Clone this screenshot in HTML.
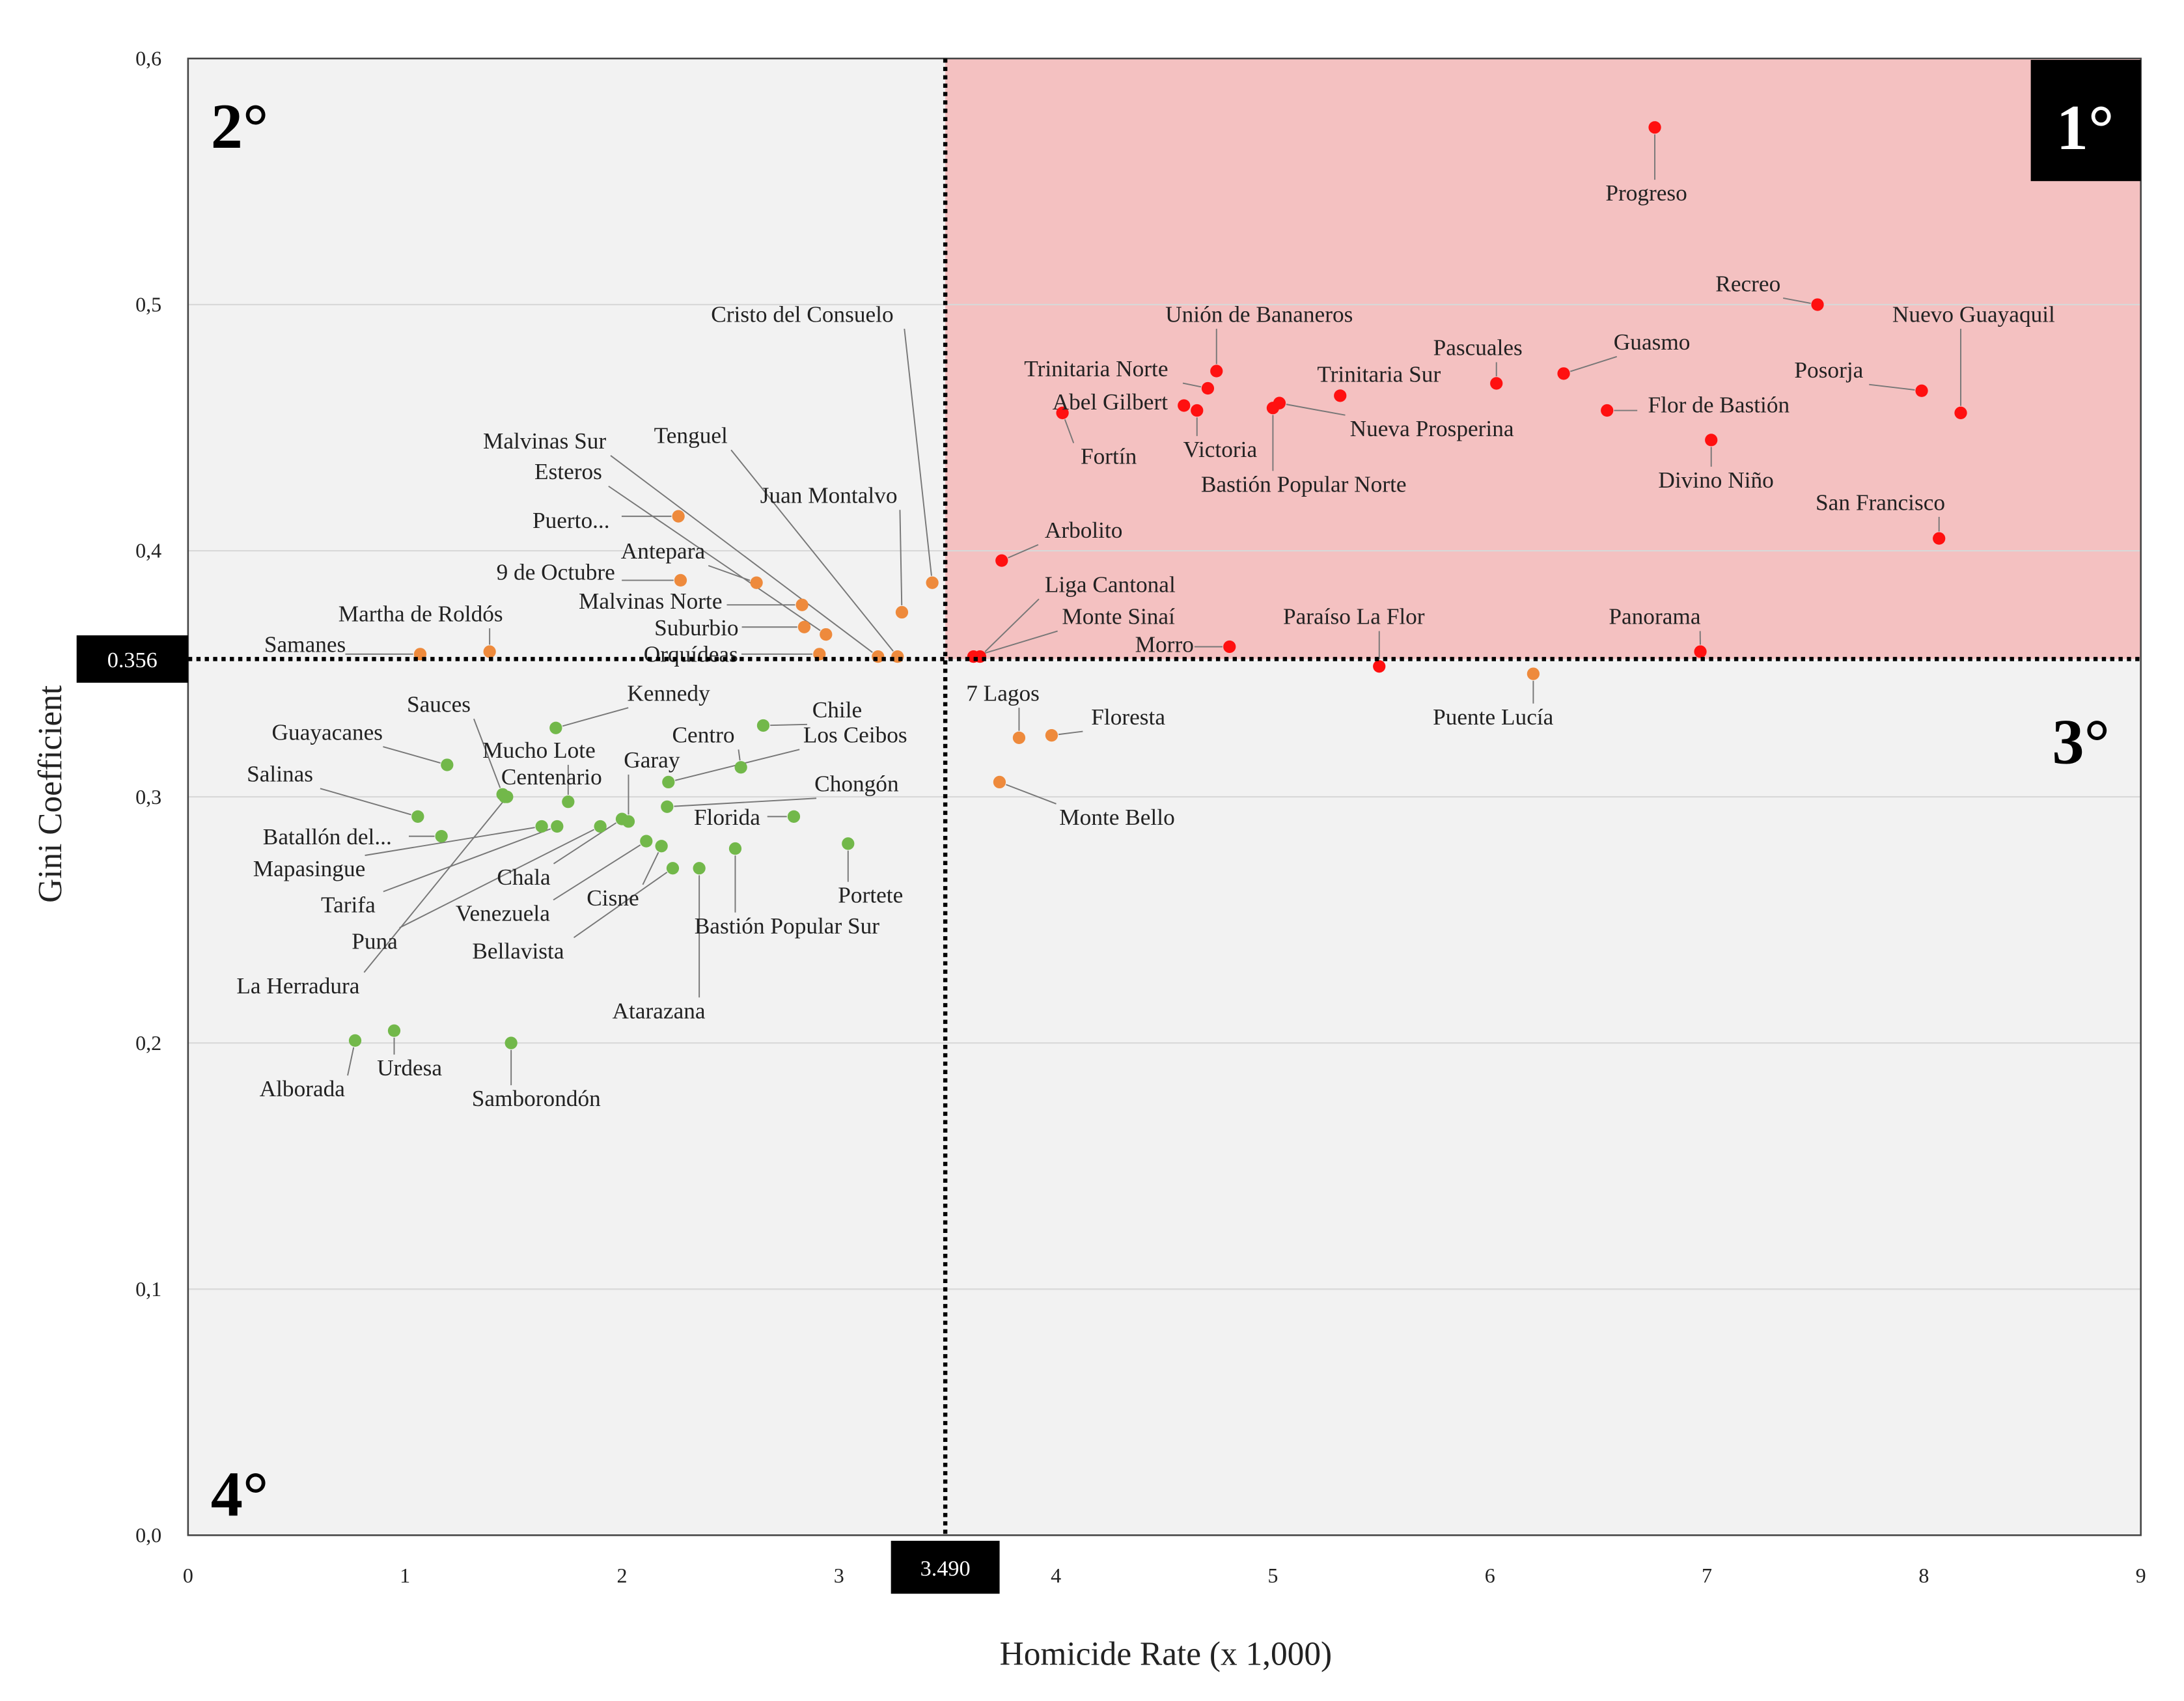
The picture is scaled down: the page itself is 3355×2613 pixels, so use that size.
<!DOCTYPE html>
<html><head><meta charset="utf-8"><style>
html,body{margin:0;padding:0;background:#fff}
svg{display:block}
text{font-family:"Liberation Serif",serif;fill:#222}
</style></head><body>
<svg id="chart" width="3355" height="2613" viewBox="0 0 1568 1221" preserveAspectRatio="none" xmlns="http://www.w3.org/2000/svg">
<g id="bg"></g><g id="grid"></g><g id="leaders"></g><g id="pts"></g><g id="labels"></g><g id="over"></g>
</svg>
<script>
const redNames=["Progreso","Recreo","Nuevo Guayaquil","Posorja","Guasmo","Pascuales","Flor de Bastión","Divino Niño","San Francisco","Panorama","Trinitaria Sur","Unión de Bananeros","Trinitaria Norte","Abel Gilbert","Fortín","Victoria","Nueva Prosperina","Bastión Popular Norte","Arbolito","Liga Cantonal","Monte Sinaí","Morro","Paraíso La Flor"];
const redX=[6.76,7.51,8.17,7.99,6.34,6.03,6.54,7.02,8.07,6.97,5.31,4.74,4.70,4.59,4.03,4.65,5.03,5.00,3.75,3.65,3.62,4.80,5.49];
const redY=[0.572,0.500,0.456,0.465,0.472,0.468,0.457,0.445,0.405,0.359,0.463,0.473,0.466,0.459,0.456,0.457,0.460,0.458,0.396,0.357,0.357,0.361,0.353];
const orangeNames=["Cristo del Consuelo","Juan Montalvo","Tenguel","Malvinas Sur","Esteros","Puerto...","Antepara","9 de Octubre","Malvinas Norte","Suburbio","Orquídeas","Martha de Roldós","Samanes","7 Lagos","Floresta","Monte Bello","Puente Lucía"];
const orangeX=[3.43,3.29,3.27,3.18,2.94,2.26,2.62,2.27,2.83,2.84,2.91,1.39,1.07,3.83,3.98,3.74,6.20];
const orangeY=[0.387,0.375,0.357,0.357,0.366,0.414,0.387,0.388,0.378,0.369,0.358,0.359,0.358,0.324,0.325,0.306,0.350];
const greenNames=["Kennedy","Chile","Guayacanes","Centro","Los Ceibos","Sauces","La Herradura","Mucho Lote","Centenario","Garay","Chongón","Salinas","Florida","Batallón del...","Mapasingue","Tarifa","Puna","Chala","Venezuela","Cisne","Bellavista","Atarazana","Bastión Popular Sur","Portete","Alborada","Urdesa","Samborondón"];
const greenX=[1.695,2.651,1.194,2.548,2.214,1.450,1.470,1.752,1.46,2.03,2.208,1.059,2.792,1.168,1.630,1.701,1.900,2.00,2.112,2.182,2.234,2.356,2.522,3.042,0.770,0.950,1.489];
const greenY=[0.328,0.329,0.313,0.312,0.306,0.301,0.300,0.298,0.300,0.290,0.296,0.292,0.292,0.284,0.288,0.288,0.288,0.291,0.282,0.280,0.271,0.271,0.279,0.281,0.201,0.205,0.200];
const xTicks=[0,1,2,3,4,5,6,7,8,9];
const yTicks=[0,0.1,0.2,0.3,0.4,0.5,0.6];
const yTickLabels=["0,0","0,1","0,2","0,3","0,4","0,5","0,6"];
const thrX=3.49, thrY=0.356;
// label layout (viewBox px): [centerX, baselineY]
const labelPos={"Progreso":[1182,144],"Recreo":[1255,209],"Nuevo Guayaquil":[1417,231],"Posorja":[1313,271],"Guasmo":[1186,251],"Pascuales":[1061,255],"Flor de Bastión":[1234,296],"Divino Niño":[1232,350],"San Francisco":[1350,366],"Panorama":[1188,448],"Trinitaria Sur":[990,274],"Unión de Bananeros":[904,231],"Trinitaria Norte":[787,270],"Abel Gilbert":[797,294],"Fortín":[796,333],"Victoria":[876,328],"Nueva Prosperina":[1028,313],"Bastión Popular Norte":[936,353],"Arbolito":[778,386],"Liga Cantonal":[797,425],"Monte Sinaí":[803,448],"Morro":[836,468],"Paraíso La Flor":[972,448],
"Cristo del Consuelo":[576,231],"Juan Montalvo":[595,361],"Tenguel":[496,318],"Malvinas Sur":[391,322],"Esteros":[408,344],"Puerto...":[410,379],"Antepara":[476,401],"9 de Octubre":[399,416],"Malvinas Norte":[467,437],"Suburbio":[500,456],"Orquídeas":[496,475],"Martha de Roldós":[302,446],"Samanes":[219,468],"7 Lagos":[720,503],"Floresta":[810,520],"Monte Bello":[802,592],"Puente Lucía":[1072,520],
"Kennedy":[480,503],"Chile":[601,515],"Guayacanes":[235,531],"Centro":[505,533],"Los Ceibos":[614,533],"Sauces":[315,511],"La Herradura":[214,713],"Mucho Lote":[387,544],"Centenario":[396,563],"Garay":[468,551],"Chongón":[615,568],"Salinas":[201,561],"Florida":[522,592],"Batallón del...":[235,606],"Mapasingue":[222,629],"Tarifa":[250,655],"Puna":[269,681],"Chala":[376,635],"Venezuela":[361,661],"Cisne":[440,650],"Bellavista":[372,688],"Atarazana":[473,731],"Bastión Popular Sur":[565,670],"Portete":[625,648],"Alborada":[217,787],"Urdesa":[294,772],"Samborondón":[385,794]};

const L=135,R=1537,T=42,B=1102;
const sx=v=>L+(v-0)/(9-0)*(R-L);
const sy=v=>B-(v-0)/(0.6-0)*(B-T);
const NS="http://www.w3.org/2000/svg";
function mk(tag,attrs,parent,txt){const e=document.createElementNS(NS,tag);for(const k in attrs)e.setAttribute(k,attrs[k]);if(txt!==undefined)e.textContent=txt;document.getElementById(parent).appendChild(e);return e;}

let e;
e=mk("rect",{x:L,y:T,width:R-L,height:B-T,fill:"#f2f2f2"},"bg");


e=mk("rect",{x:sx(thrX),y:T,width:R-sx(thrX),height:sy(thrY)-T,fill:"#f4c1c1"},"bg");


yTicks.forEach((v,i)=>{
  if(v>0&&v<0.6){e=mk("line",{x1:L,x2:R,y1:sy(v),y2:sy(v),stroke:"#d8d8d8","stroke-width":1},"grid");
  
  }
  e=mk("text",{x:116,y:sy(v)+5,"text-anchor":"end","font-size":15},"grid",yTickLabels[i]);
  
  
});
xTicks.forEach(v=>{
  e=mk("text",{x:sx(v),y:1136,"text-anchor":"middle","font-size":15},"grid",String(v));
  
  
});
e=mk("rect",{x:L,y:T,width:R-L,height:B-T,fill:"none",stroke:"#444","stroke-width":1.2},"grid");



function series(names,xs,ys,color,key){
  names.forEach((n,i)=>{
    const px=sx(xs[i]),py=sy(ys[i]);
    const c=mk("circle",{cx:px,cy:py,r:4.5,fill:color},"pts");
    
    
    const lp=labelPos[n]; if(!lp)return;
    const t=mk("text",{x:lp[0],y:lp[1],"text-anchor":"middle","font-size":16.5},"labels",n);
    
    
    const w=n.length*7.4, x0=lp[0]-w/2-3,x1=lp[0]+w/2+3,y0=lp[1]-15,y1=lp[1]+5;
    const ex=Math.max(x0,Math.min(x1,px)),ey=Math.max(y0,Math.min(y1,py));
    const d=Math.hypot(ex-px,ey-py);
    if(d>9){
      const k=5/d;
      const ln=mk("line",{x1:px+(ex-px)*k,y1:py+(ey-py)*k,x2:ex,y2:ey,stroke:"#777","stroke-width":0.9},"leaders");
      
      
    }
  });
}
series(redNames,redX,redY,"#ff1010","red");
series(orangeNames,orangeX,orangeY,"#ee8a3c","orange");
series(greenNames,greenX,greenY,"#72b84a","green");

e=mk("line",{x1:sx(thrX),x2:sx(thrX),y1:T,y2:B,stroke:"#000","stroke-width":3,"stroke-dasharray":"3,3"},"over");


e=mk("line",{x1:L,x2:R,y1:sy(thrY),y2:sy(thrY),stroke:"#000","stroke-width":3,"stroke-dasharray":"3,3"},"over");


e=mk("rect",{x:55,y:sy(thrY)-17,width:80,height:34,fill:"#000"},"over");


e=mk("text",{x:95,y:sy(thrY)+6,"text-anchor":"middle","font-size":16,style:"fill:#fff"},"over",thrY.toFixed(3));


e=mk("rect",{x:sx(thrX)-39,y:1106,width:78,height:38,fill:"#000"},"over");


e=mk("text",{x:sx(thrX),y:1131,"text-anchor":"middle","font-size":16,style:"fill:#fff"},"over",thrX.toFixed(3));



e=mk("rect",{x:1458,y:43,width:79,height:87,fill:"#000"},"over");


e=mk("text",{x:1497,y:107,"text-anchor":"middle","font-size":46,"font-weight":"bold",style:"fill:#fff"},"over","1°");


[["2°",172,106,"quadrant-2-label"],["3°",1494,548,"quadrant-3-label"],["4°",172,1088,"quadrant-4-label"]].forEach(q=>{
  const t=mk("text",{x:q[1],y:q[2],"text-anchor":"middle","font-size":46,"font-weight":"bold",style:"fill:#000"},"over",q[0]);
  
  
});
e=mk("text",{x:837,y:1195,"text-anchor":"middle","font-size":24},"over","Homicide Rate (x 1,000)");


e=mk("text",{x:44,y:570,"text-anchor":"middle","font-size":24,transform:"rotate(-90 44 570)"},"over","Gini Coefficient");


</script>
</body></html>
